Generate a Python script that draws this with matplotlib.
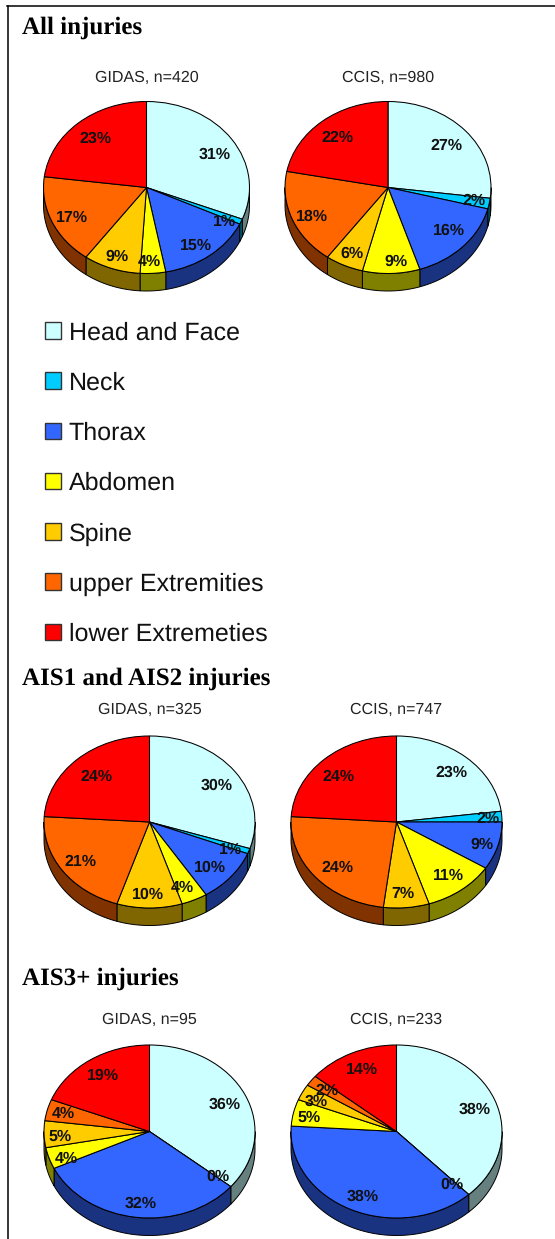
import numpy as np
import matplotlib
matplotlib.use("Agg")
import matplotlib.pyplot as plt
from matplotlib.lines import Line2D
from matplotlib.patches import Patch

plt.rcParams["text.hinting"] = "none"
plt.rcParams["text.hinting_factor"] = 1

W, H = 555, 1239
PX = 0.72

categories = ["Head and Face", "Neck", "Thorax", "Abdomen", "Spine",
              "upper Extremities", "lower Extremeties"]
colors = ["#CCFFFF", "#00CCFF", "#3366FF", "#FFFF00", "#FFCC00", "#FF6600", "#FF0000"]
side_colors = ["#668080", "#006680", "#1A3380", "#808000", "#806600", "#803300", "#800000"]

all_gidas = [31, 1, 15, 4, 9, 17, 23]
all_ccis = [27, 2, 16, 9, 6, 18, 22]
low_gidas = [30, 1, 10, 4, 10, 21, 24]
low_ccis = [23, 2, 9, 11, 7, 24, 24]
high_gidas = [36, 0, 32, 4, 5, 4, 19]
high_ccis = [38, 0, 38, 5, 3, 2, 14]

section_titles = ["All injuries", "AIS1 and AIS2 injuries", "AIS3+ injuries"]
section_y = [28, 679, 979]

# label nudges in pixels (right, down), one per slice
nudge_1 = [(1, 5), (3, 7), (0, 5), (-2, 6), (-2, 5), (0, 3), (3, 2)]
nudge_2 = [(-3, 3), (6, 1), (2, -3), (5, 6), (-1, 5), (0, 4), (1, 3)]
nudge_3 = [(0, 4), (3, 5), (-4, 2), (-3, 4), (-1, 5), (0, 2), (4, 4)]
nudge_4 = [(0, 2), (8, 1), (5, 4), (1, 0), (-1, 4), (5, 2), (-1, 4)]
nudge_5 = [(0, 2), (4, 2), (2, 4), (-4, 6), (-6, 3), (-5, -1), (0, 1)]
nudge_6 = [(1, 3), (-2, 3), (2, 3), (-6, 1), (-6, 1), (-2, -1), (1, 0)]

# title, values, nudges, centre x, centre y, radius x, radius y, title y
pies = [
    ("GIDAS, n=420", all_gidas, nudge_1, 146.5, 187.5, 103, 86, 78),
    ("CCIS, n=980", all_ccis, nudge_2, 388, 187.5, 103, 86, 78),
    ("GIDAS, n=325", low_gidas, nudge_3, 149.5, 822, 105.5, 86, 710),
    ("CCIS, n=747", low_ccis, nudge_4, 396.5, 822, 105.5, 86, 710),
    ("GIDAS, n=95", high_gidas, nudge_5, 149.5, 1131.5, 105.5, 86.5, 1020),
    ("CCIS, n=233", high_ccis, nudge_6, 396.5, 1131.5, 105.5, 86.5, 1020),
]
DEPTH_PX = 17.5

fig = plt.figure(figsize=(W / 100, H / 100), dpi=100, facecolor="white")


def draw_pie(title, values, nudges, cx, cy, rx, ry, ty):
    ax = fig.add_axes([(cx - rx) / W, 1 - (cy + ry) / H, 2 * rx / W, 2 * ry / H])
    wedges, _, autotexts = ax.pie(
        values, colors=colors, startangle=90, counterclock=False, radius=1,
        autopct="%.0f%%", pctdistance=0.79,
        wedgeprops=dict(edgecolor="black", linewidth=0.75, clip_on=False),
        textprops=dict(family="Liberation Sans", fontweight="bold",
                       fontsize=15.6 * PX, color="#111111"),
    )
    ax.set_aspect("auto")
    ax.set_xlim(-1, 1)
    ax.set_ylim(-1, 1)
    depth = DEPTH_PX / ry
    fr = np.cumsum([0] + list(values)) / sum(values)
    for i, v in enumerate(values):
        a0 = max(fr[i] * 360, 90)
        a1 = min(fr[i + 1] * 360, 270)
        if v == 0 or a1 <= a0:
            continue
        t = np.radians(np.linspace(a0, a1, 60))
        x, y = np.sin(t), np.cos(t)
        ax.fill(np.r_[x, x[::-1]], np.r_[y, y[::-1] - depth],
                facecolor=side_colors[i], edgecolor="black", linewidth=0.7,
                zorder=0.5, clip_on=False)
    for tx, (dx, dy) in zip(autotexts, nudges):
        px, py = tx.get_position()
        tx.set_position((px + dx / rx, py - dy / ry))
        tx.set_zorder(5)
    fig.text(cx / W, 1 - ty / H, title, ha="center", va="center",
             family="Liberation Sans", fontsize=15.6 * PX, color="#222222")


for p in pies:
    draw_pie(*p)

for t, y in zip(section_titles, section_y):
    fig.text(22 / W, 1 - y / H, t, ha="left", va="center",
             family="Liberation Serif", fontweight="bold",
             fontsize=25.2 * PX, color="black")

handles = [Patch(facecolor=c, edgecolor="#333333", linewidth=1.0) for c in colors]
fig.legend(handles, categories, loc="upper left",
           bbox_to_anchor=(35 / W, 1 - 311 / H), frameon=False,
           prop=dict(family="Liberation Sans", size=25.45 * PX),
           handlelength=0.62, handleheight=0.62, handletextpad=0.3,
           labelspacing=1.06, labelcolor="#111111", borderpad=0.4, borderaxespad=0)

fig.add_artist(Line2D([7.5 / W, 7.5 / W], [0, 1 - 6 / H], color="black", lw=1.1))
fig.add_artist(Line2D([7 / W, 1], [1 - 6 / H, 1 - 6 / H], color="black", lw=1.1))

fig.savefig("out.png", dpi=100)
